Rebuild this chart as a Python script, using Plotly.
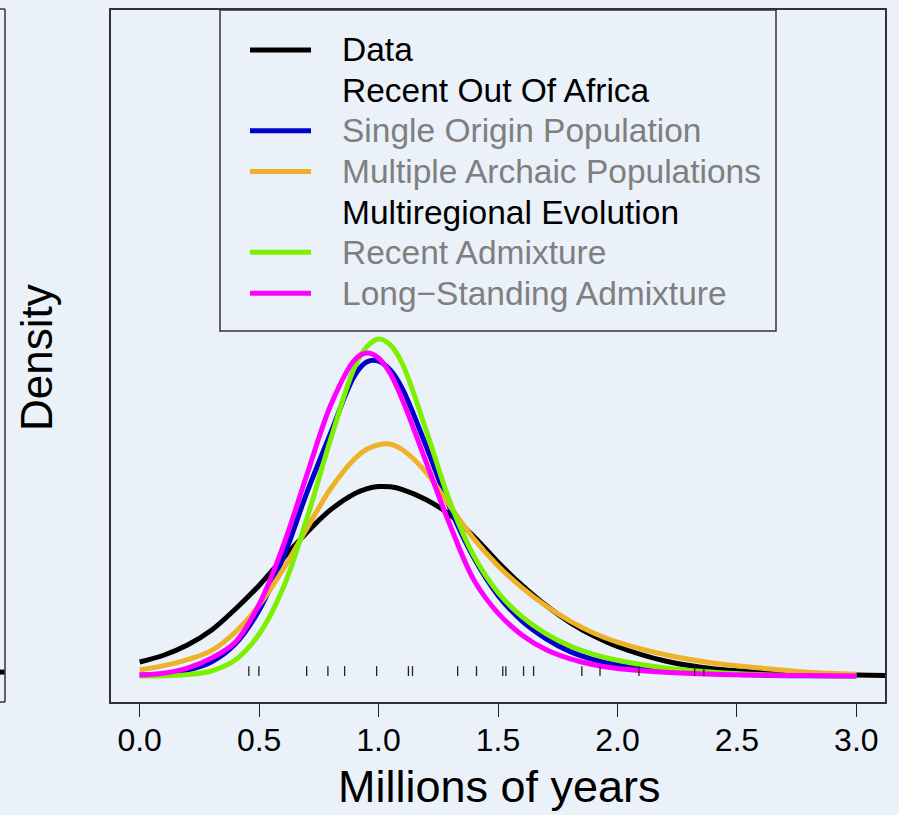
import plotly.graph_objects as go

# ---------------- data ----------------
x_grid = [0.0, 0.1, 0.2, 0.3, 0.4, 0.5, 0.6, 0.7, 0.8, 0.9, 0.95, 1.0, 1.05, 1.1, 1.2, 1.3,
          1.4, 1.5, 1.6, 1.7, 1.8, 1.9, 2.0, 2.2, 2.4, 2.6, 2.8, 3.0]

data_density = [0.058, 0.086, 0.128, 0.189, 0.276, 0.374, 0.486, 0.593, 0.687, 0.753,
                0.773, 0.782, 0.781, 0.770, 0.728, 0.665, 0.575, 0.470, 0.375, 0.292,
                0.222, 0.166, 0.122, 0.062, 0.030, 0.016, 0.008, 0.004]
data_x_extra = [3.2]
data_y_extra = [0.001]

single_origin = [0.004, 0.008, 0.025, 0.058, 0.132, 0.272, 0.486, 0.757, 1.004, 1.241,
                 1.296, 1.300, 1.262, 1.185, 0.947, 0.691, 0.486, 0.333, 0.228, 0.155,
                 0.102, 0.068, 0.046, 0.024, 0.012, 0.004, 0.001, 0.0]

multiple_archaic = [0.025, 0.043, 0.068, 0.105, 0.181, 0.292, 0.440, 0.609, 0.774, 0.897,
                    0.936, 0.955, 0.957, 0.934, 0.840, 0.700, 0.565, 0.455, 0.365, 0.290,
                    0.228, 0.178, 0.140, 0.088, 0.054, 0.033, 0.016, 0.008]

recent_admixture = [0.0, 0.001, 0.006, 0.021, 0.066, 0.173, 0.362, 0.650, 0.979, 1.276,
                    1.358, 1.391, 1.366, 1.288, 1.012, 0.716, 0.494, 0.345, 0.245, 0.175,
                    0.125, 0.090, 0.065, 0.033, 0.016, 0.006, 0.002, 0.0]

long_standing = [0.004, 0.012, 0.033, 0.074, 0.140, 0.296, 0.535, 0.831, 1.119, 1.305,
                 1.333, 1.313, 1.247, 1.140, 0.881, 0.621, 0.395, 0.260, 0.170, 0.110,
                 0.072, 0.047, 0.031, 0.016, 0.008, 0.004, 0.002, 0.0]

rug_x = [0.457, 0.499, 0.699, 0.788, 0.858, 0.992, 1.125, 1.142, 1.331, 1.410,
         1.520, 1.533, 1.607, 1.649, 1.851, 1.927, 2.090, 2.323, 2.362]

tick_vals = [0.0, 0.5, 1.0, 1.5, 2.0, 2.5, 3.0]
tick_text = ["0.0", "0.5", "1.0", "1.5", "2.0", "2.5", "3.0"]

legend_labels = ["Data", "Recent Out Of Africa", "Single Origin Population",
                 "Multiple Archaic Populations", "Multiregional Evolution",
                 "Recent Admixture", "Long\u2212Standing Admixture"]
legend_colors = ["#000000", None, "#0000CD", "#EEB22A", None, "#7CF000", "#FF00FF"]
legend_text_colors = ["#000000", "#000000", "#7F7F7F", "#7F7F7F", "#000000", "#7F7F7F", "#7F7F7F"]

# ---------------- figure ----------------
W, H = 899, 815
L, R, T, B = 111, 14, 8, 113
BG = "#EBF1F9"
FONT = "Liberation Sans, Arial, Helvetica, sans-serif"


def px(xp):
    return (xp - L) / (W - L - R)


def py(yp):
    return (H - B - yp) / (H - T - B)


fig = go.Figure()

LW = 5
SM = 1.0
series = [
    (x_grid + data_x_extra, data_density + data_y_extra, "#000000"),
    (x_grid, single_origin, "#0000CD"),
    (x_grid, multiple_archaic, "#EEB22A"),
    (x_grid, recent_admixture, "#7CF000"),
    (x_grid, long_standing, "#FF00FF"),
]
for xs, ys, col in series:
    fig.add_trace(go.Scatter(x=xs, y=ys, mode="lines",
                             line=dict(color=col, width=LW, shape="spline", smoothing=SM),
                             hoverinfo="skip", showlegend=False))

# rug
rx, ry = [], []
for v in rug_x:
    rx += [v, v, None]
    ry += [0.0, 0.041, None]
fig.add_trace(go.Scatter(x=rx, y=ry, mode="lines", line=dict(color="#222222", width=1.3),
                         hoverinfo="skip", showlegend=False))

shapes = []
annotations = []

# legend box
shapes.append(dict(type="rect", xref="paper", yref="paper",
                   x0=px(220), x1=px(776), y0=py(330), y1=py(8),
                   line=dict(color="#333333", width=1.5), fillcolor=BG, layer="above"))
row_y = [48, 89, 129, 170, 211, 251, 292]
for lab, col, tcol, yy in zip(legend_labels, legend_colors, legend_text_colors, row_y):
    if col is not None:
        shapes.append(dict(type="line", xref="paper", yref="paper",
                           x0=px(250), x1=px(311), y0=py(yy), y1=py(yy),
                           line=dict(color=col, width=5), layer="above"))
    annotations.append(dict(text=lab, xref="paper", yref="paper", x=px(340), y=py(yy),
                            xanchor="left", yanchor="middle", showarrow=False,
                            font=dict(family=FONT, size=33.5, color=tcol)))

# remnants of neighbouring panel on the left
shapes.append(dict(type="line", xref="paper", yref="paper", x0=px(5), x1=px(5),
                   y0=py(702), y1=py(7), line=dict(color="#333333", width=1.5)))
shapes.append(dict(type="line", xref="paper", yref="paper", x0=px(-2), x1=px(5),
                   y0=py(702), y1=py(702), line=dict(color="#333333", width=1.5)))
shapes.append(dict(type="line", xref="paper", yref="paper", x0=px(-2), x1=px(5),
                   y0=py(7), y1=py(7), line=dict(color="#333333", width=1.5)))
shapes.append(dict(type="line", xref="paper", yref="paper", x0=px(-2), x1=px(4.5),
                   y0=py(672), y1=py(672), line=dict(color="#000000", width=5)))

# axis titles
annotations.append(dict(text="Millions of years", xref="paper", yref="paper",
                        x=px(499), y=py(787), xanchor="center", yanchor="middle",
                        showarrow=False, font=dict(family=FONT, size=45, color="#000000")))
annotations.append(dict(text="Density", xref="paper", yref="paper",
                        x=px(37), y=py(357), xanchor="center", yanchor="middle", textangle=-90,
                        showarrow=False, font=dict(family=FONT, size=44, color="#000000")))

fig.update_layout(
    width=W, height=H,
    margin=dict(l=L, r=R, t=T, b=B, pad=0),
    paper_bgcolor=BG, plot_bgcolor=BG,
    showlegend=False,
    shapes=shapes, annotations=annotations,
    xaxis=dict(range=[-0.12, 3.12], tickvals=tick_vals, ticktext=tick_text,
               ticks="outside", ticklen=13, tickwidth=1.3, tickcolor="#222222",
               ticklabelstandoff=-4,
               showline=True, mirror=True, linecolor="#333333", linewidth=1.5,
               showgrid=False, zeroline=False,
               tickfont=dict(family=FONT, size=32, color="#000000")),
    yaxis=dict(range=[-0.107, 2.749], showticklabels=False, ticks="",
               showline=True, mirror=True, linecolor="#333333", linewidth=1.5,
               showgrid=False, zeroline=False),
)

fig.write_html("out.html")
